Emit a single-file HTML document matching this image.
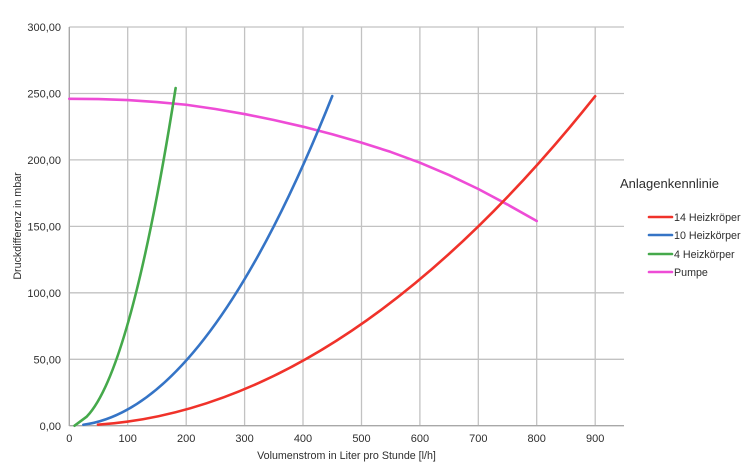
<!DOCTYPE html>
<html>
<head>
<meta charset="utf-8">
<style>
  html,body{margin:0;padding:0;background:#fff;}
  svg{display:block;}
  text{font-family:"Liberation Sans",Arial,sans-serif;fill:#2e2e2e;}
</style>
</head>
<body>
<svg width="750" height="467" viewBox="0 0 750 467" xmlns="http://www.w3.org/2000/svg">
  <rect width="750" height="467" fill="#fff"/>
  <!-- horizontal gridlines -->
  <g stroke="#c2c2c2" stroke-width="1.3">
    <line x1="69.3" y1="27.0" x2="624" y2="27.0"/>
    <line x1="69.3" y1="93.5" x2="624" y2="93.5"/>
    <line x1="69.3" y1="159.9" x2="624" y2="159.9"/>
    <line x1="69.3" y1="226.4" x2="624" y2="226.4"/>
    <line x1="69.3" y1="292.8" x2="624" y2="292.8"/>
    <line x1="69.3" y1="359.3" x2="624" y2="359.3"/>
  </g>
  <!-- vertical gridlines -->
  <g stroke="#c2c2c2" stroke-width="1.3">
    <line x1="127.7" y1="27" x2="127.7" y2="425.7"/>
    <line x1="186.2" y1="27" x2="186.2" y2="425.7"/>
    <line x1="244.6" y1="27" x2="244.6" y2="425.7"/>
    <line x1="303.0" y1="27" x2="303.0" y2="425.7"/>
    <line x1="361.5" y1="27" x2="361.5" y2="425.7"/>
    <line x1="419.9" y1="27" x2="419.9" y2="425.7"/>
    <line x1="478.3" y1="27" x2="478.3" y2="425.7"/>
    <line x1="536.7" y1="27" x2="536.7" y2="425.7"/>
    <line x1="595.2" y1="27" x2="595.2" y2="425.7"/>
  </g>
  <!-- axes -->
  <g stroke="#a8a8a8" stroke-width="1.4">
    <line x1="69.3" y1="27" x2="69.3" y2="426"/>
    <line x1="69.3" y1="425.7" x2="624" y2="425.7"/>
  </g>

  <!-- series in data coordinates -->
  <g transform="matrix(0.5843,0,0,-1.329,69.3,425.7)" fill="none" stroke-width="2.6" stroke-linecap="round" stroke-linejoin="round">
    <!-- Pumpe -->
    <polyline vector-effect="non-scaling-stroke" stroke="#ee4cd6"
      points="0,246 50,245.8 100,245 150,243.5 200,241.5 250,238.3 300,234.5 350,230 400,225 450,219.3 500,213 550,206 600,197.9 650,188.6 700,178.1 750,166.4 800,154"/>
    <!-- 14 Heizkörper -->
    <path vector-effect="non-scaling-stroke" stroke="#f0322a"
      d="M49,0.735 Q474.5,13.49 900,247.9"/>
    <!-- 10 Heizkörper -->
    <path vector-effect="non-scaling-stroke" stroke="#3574c6"
      d="M24,0.705 Q237,13.23 450,248"/>
    <!-- 4 Heizkörper -->
    <path vector-effect="non-scaling-stroke" stroke="#45a94b"
      d="M9,0 L30,6.9 Q106,41.88 182,254.1"/>
  </g>

  <!-- y tick labels -->
  <g font-size="11" text-anchor="end">
    <text x="61" y="31">300,00</text>
    <text x="61" y="97.5">250,00</text>
    <text x="61" y="164">200,00</text>
    <text x="61" y="230.5">150,00</text>
    <text x="61" y="297">100,00</text>
    <text x="61" y="363.5">50,00</text>
    <text x="61" y="430">0,00</text>
  </g>
  <!-- x tick labels -->
  <g font-size="11" text-anchor="middle">
    <text x="69.3" y="442">0</text>
    <text x="127.7" y="442">100</text>
    <text x="186.2" y="442">200</text>
    <text x="244.6" y="442">300</text>
    <text x="303.0" y="442">400</text>
    <text x="361.5" y="442">500</text>
    <text x="419.9" y="442">600</text>
    <text x="478.3" y="442">700</text>
    <text x="536.7" y="442">800</text>
    <text x="595.2" y="442">900</text>
  </g>
  <!-- axis titles -->
  <text x="346.5" y="459" font-size="10.7" text-anchor="middle">Volumenstrom in Liter pro Stunde [l/h]</text>
  <text transform="translate(21,226) rotate(-90)" font-size="10.7" text-anchor="middle">Druckdifferenz in mbar</text>

  <!-- legend -->
  <text x="620" y="188" font-size="13">Anlagenkennlinie</text>
  <g stroke-width="2.6" stroke-linecap="round">
    <line x1="649" y1="217" x2="672" y2="217" stroke="#f0322a"/>
    <line x1="649" y1="235" x2="672" y2="235" stroke="#3574c6"/>
    <line x1="649" y1="254" x2="672" y2="254" stroke="#45a94b"/>
    <line x1="649" y1="272" x2="672" y2="272" stroke="#ee4cd6"/>
  </g>
  <g font-size="10.7">
    <text x="674" y="221">14 Heizkröper</text>
    <text x="674" y="239">10 Heizkörper</text>
    <text x="674" y="258">4 Heizkörper</text>
    <text x="674" y="276">Pumpe</text>
  </g>
</svg>
</body>
</html>
